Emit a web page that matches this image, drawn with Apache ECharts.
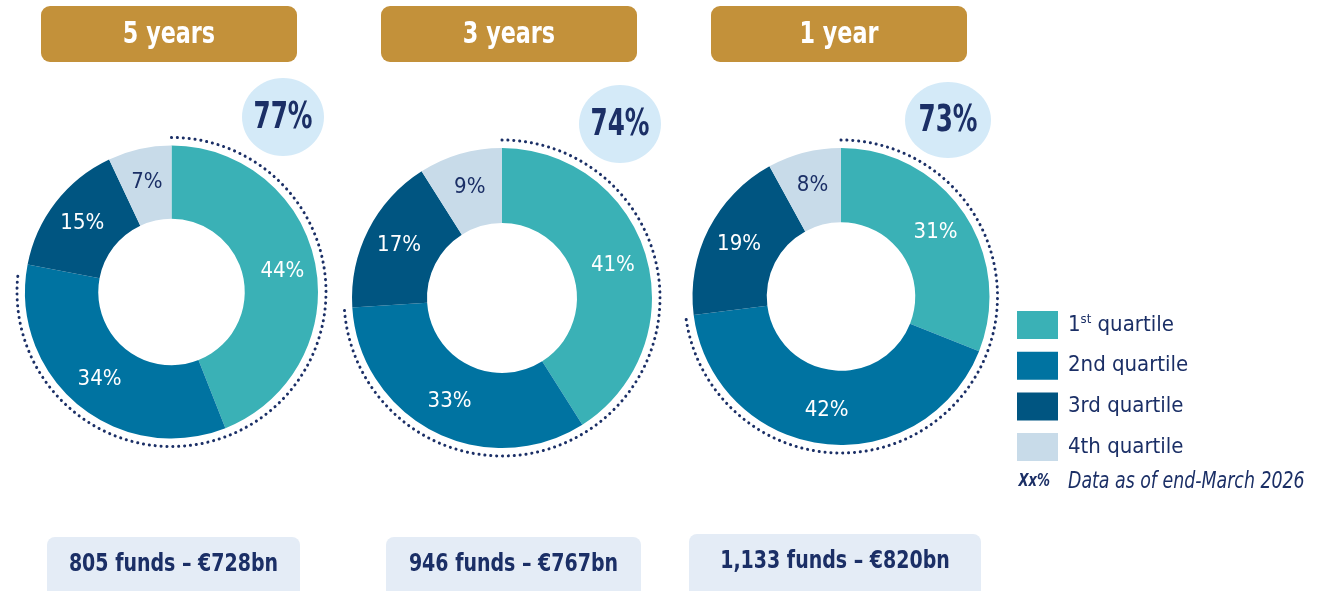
<!DOCTYPE html>
<html>
<head>
<meta charset="utf-8">
<script src="https://cdn.jsdelivr.net/npm/echarts@6/dist/echarts.min.js"></script>
<style>
  html, body { margin: 0; padding: 0; background: #fff; }
  #chart { width: 1319px; height: 591px; }
</style>
</head>
<body>
<div id="chart"></div>
<script>
// data
const periods = ['5 years', '3 years', '1 year']
const quartiles = ['1st quartile', '2nd quartile', '3rd quartile', '4th quartile']
const shares5y = [44, 34, 15, 7]
const shares3y = [41, 33, 17, 9]
const shares1y = [31, 42, 19, 8]
const topHalfShares = [77, 74, 73]
const fundTotals = ['805 funds – €728bn', '946 funds – €767bn', '1,133 funds – €820bn']

const FONT = '"DejaVu Sans Condensed", "Liberation Sans Narrow", "Open Sans", sans-serif'
const NAVY = '#1b2f66'
const colors = ['#3ab1b6', '#0073a1', '#005581', '#c8dbe9']

// layout per panel
const centers = [[171.5, 292], [502, 298], [841, 296.5]]
const outerR = [146.5, 150, 148.5]
const headerX = [41, 381, 711]
const bubbles = [[283, 117, 41, 39], [620, 124, 41, 39], [948, 120, 43, 38]]
const totalBoxes = [[47, 537, 253, 64], [386, 537, 255, 64], [689, 534, 292, 67]]

const allShares = [shares5y, shares3y, shares1y]

const chart = echarts.init(document.getElementById('chart'))

const series = allShares.map((shares, i) => ({
  type: 'pie',
  silent: true,
  center: centers[i],
  radius: [outerR[i] * 0.5, outerR[i]],
  startAngle: 90,
  clockwise: true,
  itemStyle: { borderWidth: 0 },
  label: {
    show: true,
    position: 'inside',
    fontFamily: FONT,
    fontSize: 22,
    color: '#fff',
    formatter: p => p.value + '%'
  },
  labelLine: { show: false },
  emphasis: { disabled: true },
  data: shares.map((v, k) => ({
    name: quartiles[k],
    value: v,
    itemStyle: { color: colors[k] },
    label: k === 3 ? { color: NAVY } : undefined
  }))
}))

const txt = (x, y, text, font, fill, align, sx) => ({
  type: 'text', x, y, scaleX: sx, silent: true,
  style: { text, fill, font: font + ' ' + FONT, align, verticalAlign: 'middle' }
})

const graphics = []
periods.forEach((p, i) => {
  // header
  graphics.push({
    type: 'rect',
    shape: { x: headerX[i], y: 6, width: 256, height: 56, r: 9 },
    style: { fill: '#c3913a' }
  })
  graphics.push(txt(headerX[i] + 128, 35, p, 'bold 31px', '#fff', 'center', 0.8))
  // dotted arc for 1st + 2nd quartile share
  const [cx, cy] = centers[i]
  const start = -Math.PI / 2
  graphics.push({
    type: 'arc',
    silent: true,
    shape: { cx, cy, r: outerR[i] + 8, startAngle: start, endAngle: start + topHalfShares[i] / 100 * Math.PI * 2, clockwise: true },
    style: { fill: null, stroke: NAVY, lineWidth: 3, lineDash: [0.1, 5.8], lineCap: 'round' }
  })
  // bubble
  const [bx, by, rx, ry] = bubbles[i]
  graphics.push({
    type: 'ellipse',
    shape: { cx: bx, cy: by, rx, ry },
    style: { fill: '#d4eaf8' }
  })
  graphics.push(txt(bx, by + 1, topHalfShares[i] + '%', 'bold 37px', NAVY, 'center', 0.74))
  // totals box
  const [tx, ty, tw, th] = totalBoxes[i]
  graphics.push({
    type: 'rect',
    shape: { x: tx, y: ty, width: tw, height: th, r: 8 },
    style: { fill: '#e4ecf6' }
  })
  graphics.push(txt(tx + tw / 2, ty + 28, fundTotals[i], 'bold 24px', NAVY, 'center', 0.88))
})

// note under legend
graphics.push(txt(1050, 482, 'Xx%', 'italic bold 17px', NAVY, 'right', 0.85))
graphics.push(txt(1068, 482, 'Data as of end-March 2026', 'italic 23px', NAVY, 'left', 0.84))

chart.setOption({
  animation: false,
  legend: {
    orient: 'vertical',
    left: 1012,
    top: 306,
    icon: 'rect',
    itemWidth: 41,
    itemHeight: 28,
    itemGap: 12.7,
    selectedMode: false,
    data: quartiles,
    formatter: name => name.startsWith('1st') ? '1{sup|st}' + name.slice(3) : name,
    textStyle: {
      fontFamily: FONT,
      fontSize: 22,
      color: NAVY,
      padding: [0, 0, 0, 5],
      rich: {
        sup: { fontFamily: FONT, fontSize: 13, color: NAVY, padding: [0, 0, 10, 0] }
      }
    }
  },
  series,
  graphic: graphics
})

window.addEventListener('resize', () => chart.resize())
</script>
</body>
</html>
